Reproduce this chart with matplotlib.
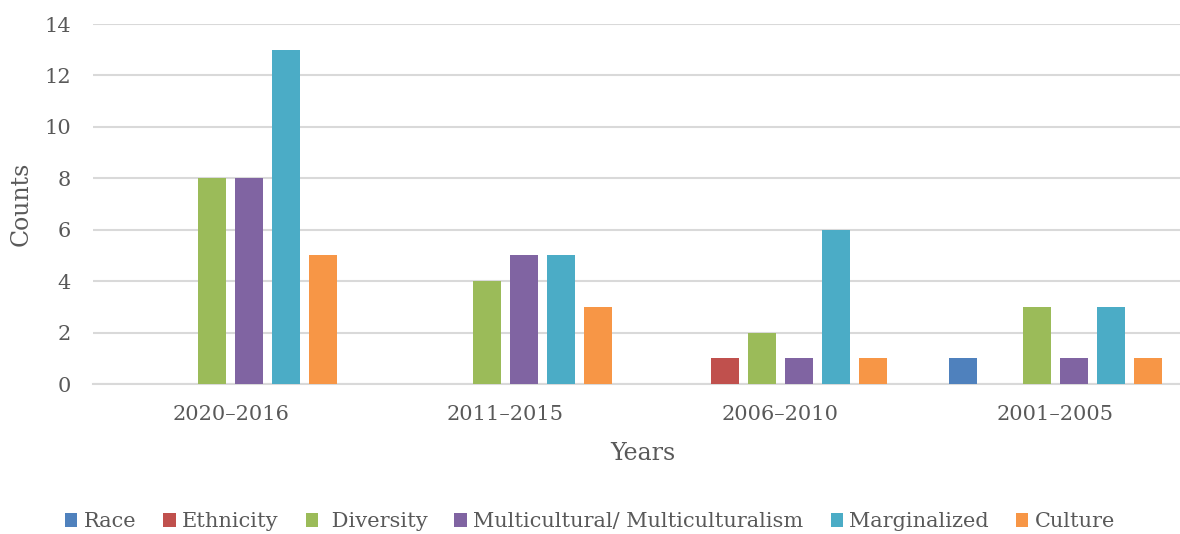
import numpy as np
import matplotlib
matplotlib.use('Agg')
import matplotlib.pyplot as plt

# year groups and counts per term
years = ['2020–2016', '2011–2015', '2006–2010', '2001–2005']
terms = ['Race', 'Ethnicity', ' Diversity', 'Multicultural/ Multiculturalism', 'Marginalized', 'Culture']
race = [0, 0, 0, 1]
ethnicity = [0, 0, 1, 0]
diversity = [8, 4, 2, 3]
multicultural = [8, 5, 1, 1]
marginalized = [13, 5, 6, 3]
culture = [5, 3, 1, 1]

series = [race, ethnicity, diversity, multicultural, marginalized, culture]
colors = ['#4F81BD', '#C0504D', '#9BBB59', '#8064A2', '#4BACC6', '#F79646']

plt.rcParams['font.family'] = ['DejaVu Serif']
text_col = '#595959'

fig = plt.figure(figsize=(11.8, 5.34), dpi=100)
ax = fig.add_axes([93 / 1180, 1 - 384 / 534, 1100 / 1180, 360 / 534])

x = np.arange(len(years))
step = 0.1345
width = 0.105
for i, (vals, name, c) in enumerate(zip(series, terms, colors)):
    offs = (i - 2.5) * step
    ax.bar(x + offs, vals, width, color=c, label=name, zorder=3)

ax.set_xlim(-0.5, 3.5)
ax.set_ylim(0, 14)
ax.set_yticks(range(0, 15, 2))
ax.set_xticks(x)
ax.set_xticklabels(years)
ax.tick_params(axis='both', length=0, labelsize=15, colors=text_col)
ax.tick_params(axis='x', pad=15)
ax.tick_params(axis='y', pad=16)
ax.yaxis.grid(True, color='#D9D9D9', linewidth=1.5, zorder=0)
for s in ['top', 'right', 'left']:
    ax.spines[s].set_visible(False)
ax.spines['bottom'].set_color('#D9D9D9')
ax.spines['bottom'].set_linewidth(1.5)

ax.set_xlabel('Years', fontsize=17, color=text_col, labelpad=13)
ax.set_ylabel('Counts', fontsize=17, color=text_col, labelpad=8)

fig.legend(loc='lower center', bbox_to_anchor=(0.5, -0.03), ncol=6, frameon=False,
           fontsize=15, labelcolor=text_col, handlelength=0.6, handleheight=0.6,
           handletextpad=0.3, columnspacing=1.3)

fig.savefig('out.png', dpi=100)
